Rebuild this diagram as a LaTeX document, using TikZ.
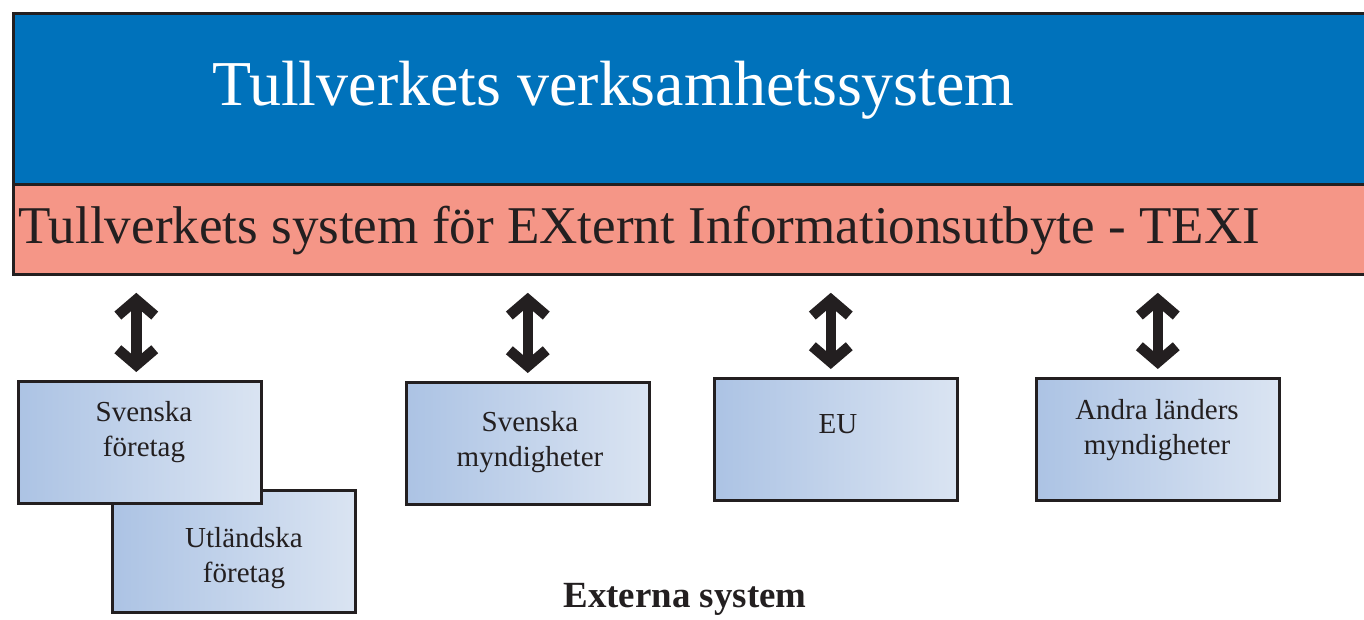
\documentclass[tikz,border=0pt]{standalone}
\usepackage{fontspec}
\setmainfont{Liberation Serif}
\usetikzlibrary{arrows.meta}
\definecolor{topblue}{RGB}{0,114,187}
\definecolor{texipink}{RGB}{245,150,135}
\definecolor{boxL}{RGB}{172,195,228}
\definecolor{boxR}{RGB}{218,228,242}
\definecolor{edge}{RGB}{35,31,32}
\begin{document}
\begin{tikzpicture}[x=0.02cm,y=-0.02cm,
 bar/.style={draw=edge, line width=1.6pt, anchor=north west, inner sep=0, minimum width=27.5cm},
 extbox/.style={draw=edge, line width=1.5pt, left color=boxL, right color=boxR, minimum width=4.86cm, minimum height=2.44cm, anchor=north west, inner sep=0},
 boxtext/.style={font=\fontsize{16.5}{19.5}\selectfont, align=center, text=edge, inner sep=0, anchor=base},
 dbl/.style={line width=6pt, draw=edge, shorten <=0.34cm, shorten >=0.16cm, {Straight Barb[length=9pt,width=21pt]}-{Straight Barb[length=9pt,width=21pt]}}]
\useasboundingbox (0,0) rectangle (1364,619);
% top bars
\node[bar, fill=topblue, minimum height=3.42cm] (sys) at (12,12) {};
\node[bar, fill=texipink, minimum height=1.8cm] (texi) at (12,183) {};
\node[anchor=base west, inner sep=0, text=white, font=\fontsize{36.4}{40}\selectfont] (systxt) at (212,105) {Tullverkets verksamhetssystem};
\node[anchor=base west, inner sep=0, text=edge, font=\fontsize{30.2}{34}\selectfont] (texitxt) at (18,243) {Tullverkets system för EXternt Informationsutbyte - TEXI};
% external boxes
\node[extbox] (uf) at (111,489) {};
\node[extbox] (sf) at (17,380) {};
\node[extbox] (sm) at (405,381) {};
\node[extbox] (eu) at (713,377) {};
\node[extbox] (am) at (1035,377) {};
\node[boxtext] (sftxt) at (144,456) {Svenska\\företag};
\node[boxtext] (uftxt) at (244,582) {Utländska\\företag};
\node[boxtext] (smtxt) at (530,466) {Svenska\\myndigheter};
\node[boxtext] (eutxt) at (838,433) {EU};
\node[boxtext] (amtxt) at (1157,454) {Andra länders\\myndigheter};
% arrows
\draw[dbl] ([xshift=-0.07cm]texi.south -| sf.north) -- ([xshift=-0.07cm]sf.north);
\draw[dbl] (texi.south -| sm.north) -- (sm.north);
\draw[dbl] ([xshift=-0.1cm]texi.south -| eu.north) -- ([xshift=-0.1cm]eu.north);
\draw[dbl] (texi.south -| am.north) -- (am.north);
\node[anchor=base, inner sep=0, text=edge, font=\bfseries\fontsize{21}{24}\selectfont] (ext) at (685,607) {Externa system};
\end{tikzpicture}
\end{document}
